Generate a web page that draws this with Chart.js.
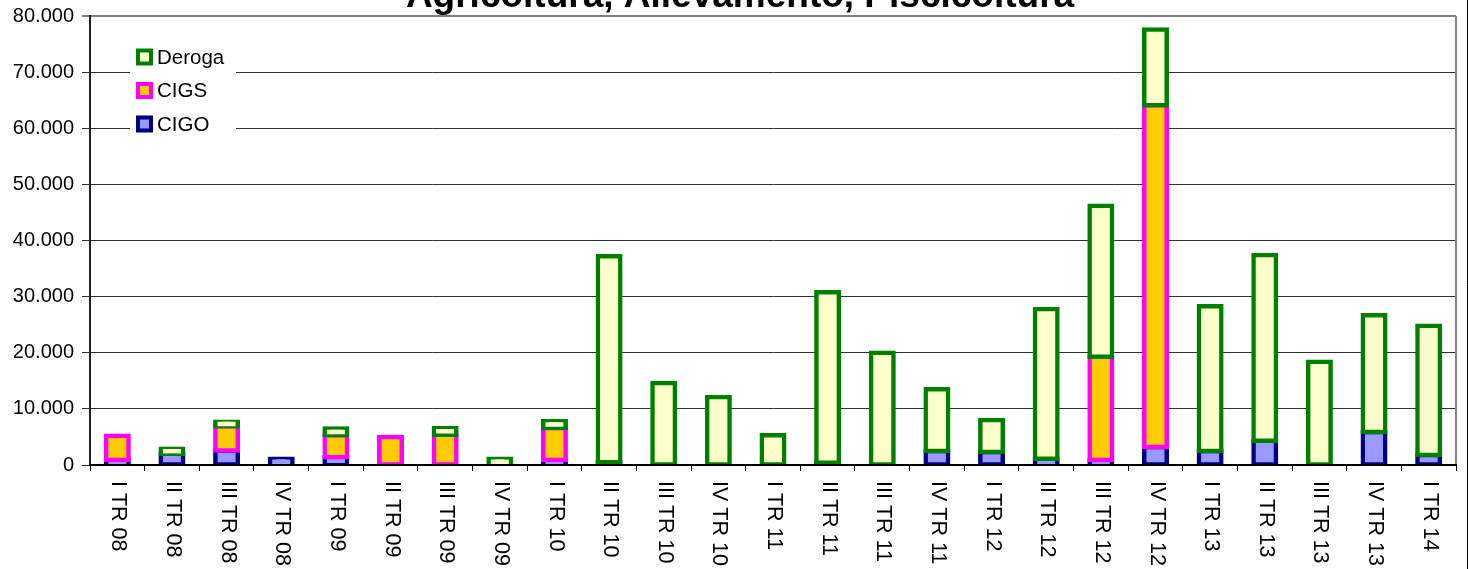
<!DOCTYPE html>
<html>
<head>
<meta charset="utf-8">
<script src="https://cdn.jsdelivr.net/npm/chart.js@4/dist/chart.umd.min.js"></script>
<style>
	html, body { margin: 0; padding: 0; background: #fff; }
	#wrap { width: 1468px; height: 569px; position: relative; }
</style>
</head>
<body>
<div id="wrap"><canvas id="cntx_cig" width="1468" height="569"></canvas></div>
<script>
// trimestri
const quarters = [
	"I TR 08", "II TR 08", "III TR 08", "IV TR 08",
	"I TR 09", "II TR 09", "III TR 09", "IV TR 09",
	"I TR 10", "II TR 10", "III TR 10", "IV TR 10",
	"I TR 11", "II TR 11", "III TR 11", "IV TR 11",
	"I TR 12", "II TR 12", "III TR 12", "IV TR 12",
	"I TR 13", "II TR 13", "III TR 13", "IV TR 13",
	"I TR 14",
];
// ore autorizzate
const cigo = [900, 2000, 2600, 1100, 1400, 0, 0, 0, 900, 500, 0, 0, 0, 400, 0, 2500, 2300, 1100, 900, 3200, 2500, 4300, 0, 5900, 1800];
const cigs = [4300, 0, 4300, 0, 3900, 5000, 5400, 0, 5700, 0, 0, 0, 0, 0, 0, 0, 0, 0, 18400, 60900, 0, 0, 0, 0, 0];
const deroga = [0, 900, 800, 0, 1200, 0, 1200, 1100, 1200, 36700, 14600, 12100, 5300, 30400, 20000, 11000, 5700, 26700, 26900, 13500, 25800, 33100, 18400, 20800, 23000];

const chartTitle = "Agricoltura, Allevamento, Piscicoltura";
const FONT = '"Liberation Sans", Arial, sans-serif';

Chart.defaults.font.family = FONT;
Chart.defaults.color = "#000";

formatIt = (v) => String(v).replace(/\B(?=(\d{3})+(?!\d))/g, ".");

// bordo destro dell'area del grafico + cornice esterna
const framePlugin = {
	id: "framePlugin",
	beforeDatasetsDraw: (chart) => {
		const ctx = chart.ctx;
		const a = chart.chartArea;
		ctx.save();
		ctx.strokeStyle = "#808080";
		ctx.lineWidth = 2;
		ctx.beginPath();
		ctx.moveTo(a.right, a.top);
		ctx.lineTo(a.right, a.bottom);
		ctx.stroke();
		ctx.restore();
	},
	afterDraw: (chart) => {
		const ctx = chart.ctx;
		ctx.save();
		ctx.strokeStyle = "#000";
		ctx.lineWidth = 1;
		ctx.beginPath();
		ctx.moveTo(chart.width - 0.5, 0);
		ctx.lineTo(chart.width - 0.5, chart.height);
		ctx.stroke();
		ctx.restore();
	},
};

// disegna le serie nell'ordine CIGO, CIGS, Deroga (l'ultima sopra), come Excel
const drawOrderPlugin = {
	id: "drawOrderPlugin",
	beforeDatasetsDraw: (chart) => {
		chart.getSortedVisibleDatasetMetas().forEach((meta) => chart._drawDataset(meta));
		return false;
	},
};

// titolo tagliato in alto, come nell'originale
const titlePlugin = {
	id: "titlePlugin",
	afterDraw: (chart) => {
		const ctx = chart.ctx;
		ctx.save();
		ctx.font = "bold 37px " + FONT;
		ctx.fillStyle = "#000";
		ctx.textAlign = "center";
		ctx.textBaseline = "alphabetic";
		ctx.fillText(chartTitle, 740, 7);
		ctx.restore();
	},
};

// etichette asse x ruotate di 90 gradi in senso orario
const xLabelPlugin = {
	id: "xLabelPlugin",
	afterDraw: (chart) => {
		const ctx = chart.ctx;
		const xs = chart.scales.x;
		ctx.save();
		ctx.font = "21.5px " + FONT;
		ctx.fillStyle = "#000";
		ctx.textAlign = "left";
		ctx.textBaseline = "middle";
		chart.data.labels.forEach((lab, i) => {
			const x = xs.getPixelForTick(i);
			ctx.save();
			ctx.translate(x + 1, xs.top + 16);
			ctx.rotate(Math.PI / 2);
			ctx.fillText(lab, 0, 0);
			ctx.restore();
		});
		ctx.restore();
	},
};

// legenda dentro l'area del grafico, in ordine inverso
const legendPlugin = {
	id: "legendPlugin",
	afterDraw: (chart) => {
		const ctx = chart.ctx;
		const a = chart.chartArea;
		const bx = a.left + 40;
		const by = a.top + 24;
		ctx.save();
		ctx.fillStyle = "#fff";
		ctx.fillRect(bx, by, 106, 106);
		const items = chart.data.datasets.slice().reverse();
		ctx.font = "20.5px " + FONT;
		ctx.textBaseline = "middle";
		ctx.textAlign = "left";
		items.forEach((ds, i) => {
			const cy = by + 17 + i * 33.5;
			ctx.fillStyle = ds.borderColor;
			ctx.fillRect(bx + 6, cy - 8.5, 17, 17);
			ctx.fillStyle = ds.backgroundColor;
			ctx.fillRect(bx + 10, cy - 4.5, 9, 9);
			ctx.fillStyle = "#000";
			ctx.fillText(ds.label, bx + 27, cy + 1);
		});
		ctx.restore();
	},
};

drawChart = (canvas) => {
	const myChart = new Chart(canvas, {
		type: "bar",
		data: {
			labels: quarters,
			datasets: [
				{
					label: "CIGO",
					data: cigo,
					backgroundColor: "#9999FF",
					borderColor: "#000080",
				},
				{
					label: "CIGS",
					data: cigs,
					backgroundColor: "#FFCC00",
					borderColor: "#FF00FF",
				},
				{
					label: "Deroga",
					data: deroga,
					backgroundColor: "#FFFFCC",
					borderColor: "#008000",
				},
			],
		},
		options: {
			responsive: false,
			animation: false,
			devicePixelRatio: 1,
			layout: {
				padding: { top: 16, right: 12, left: 0, bottom: 0 },
			},
			datasets: {
				bar: {
					barPercentage: 0.412,
					categoryPercentage: 1,
					borderWidth: 4.5,
					borderSkipped: false,
					inflateAmount: 2.25,
				},
			},
			plugins: {
				legend: { display: false },
				title: { display: false },
				tooltip: { enabled: false },
			},
			scales: {
				x: {
					stacked: true,
					grid: {
						offset: true,
						drawOnChartArea: false,
						drawTicks: true,
						tickLength: 6,
						color: "#000",
					},
					border: { color: "#000", width: 2, z: 1 },
					ticks: { display: false },
					afterFit: (s) => {
						s.height = 104;
						s.paddingLeft = 0;
						s.paddingRight = 0;
					},
				},
				y: {
					stacked: true,
					min: 0,
					max: 80000,
					grid: {
						color: (c) => (c.tick && c.tick.value === 80000 ? "#808080" : "#303030"),
						lineWidth: (c) => (c.tick && c.tick.value === 80000 ? 2 : 1),
						tickLength: 8,
					},
					border: { color: "#222", width: 2 },
					ticks: {
						stepSize: 10000,
						padding: 8,
						font: { size: 20 },
						color: "#000",
						callback: (v) => formatIt(v),
					},
					afterFit: (s) => {
						s.width = 90;
						s.paddingTop = 0;
						s.paddingBottom = 0;
					},
				},
			},
		},
		plugins: [framePlugin, drawOrderPlugin, titlePlugin, xLabelPlugin, legendPlugin],
	});
};
drawChart(document.querySelector("#cntx_cig"));
</script>
</body>
</html>
